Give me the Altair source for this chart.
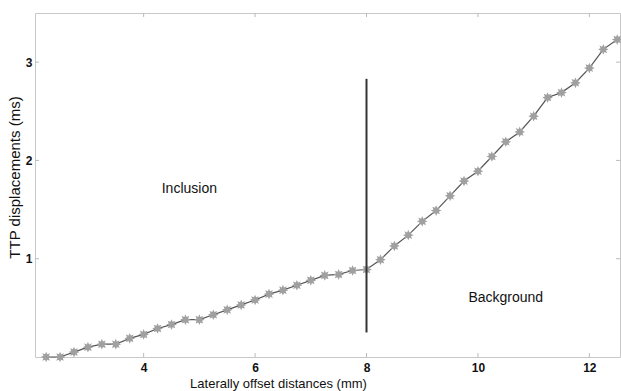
import altair as alt
import pandas as pd

# Data
offset_mm = [2.25, 2.5, 2.75, 3.0, 3.25, 3.5, 3.75, 4.0, 4.25, 4.5, 4.75, 5.0,
             5.25, 5.5, 5.75, 6.0, 6.25, 6.5, 6.75, 7.0, 7.25, 7.5, 7.75, 8.0,
             8.25, 8.5, 8.75, 9.0, 9.25, 9.5, 9.75, 10.0, 10.25, 10.5, 10.75, 11.0,
             11.25, 11.5, 11.75, 12.0, 12.25, 12.5]
ttp_ms = [0.00, 0.00, 0.05, 0.10, 0.13, 0.13, 0.19, 0.23, 0.29, 0.33, 0.38, 0.38,
          0.43, 0.48, 0.53, 0.58, 0.64, 0.68, 0.73, 0.78, 0.83, 0.84, 0.88, 0.89,
          0.99, 1.13, 1.24, 1.38, 1.49, 1.64, 1.79, 1.89, 2.04, 2.19, 2.29, 2.45,
          2.64, 2.69, 2.79, 2.94, 3.13, 3.23]

x_ticks = [4, 6, 8, 10, 12]
y_ticks = [1, 2, 3]
boundary_x = [8]
boundary_y = [0.25]
boundary_y2 = [2.83]
label_text = ["Inclusion", "Background"]
label_x = [4.82, 10.5]
label_y = [1.71, 0.60]

X_DOMAIN = [2.05, 12.55]
Y_DOMAIN = [0, 3.5]

df = pd.DataFrame({"x": offset_mm, "y": ttp_ms})
xs = alt.Scale(domain=X_DOMAIN, nice=False, zero=False)
ys = alt.Scale(domain=Y_DOMAIN, nice=False, zero=False)

FONT = "Liberation Sans"

x_axis = alt.Axis(values=x_ticks, format="d", title="Laterally offset distances (mm)",
                  grid=False, domain=False, ticks=False, labelPadding=5, labelFontSize=12,
                  labelFontWeight="bold", labelColor="#111", labelFont=FONT,
                  titleFont=FONT, titleFontSize=13, titleFontWeight="normal",
                  titleColor="#111", titleX=243, titleY=26, titleAlign="center",
                  titleBaseline="middle")
y_axis = alt.Axis(values=y_ticks, format="d", title="TTP displacements (ms)", grid=False,
                  domain=False, ticks=False, labelPadding=3, labelFontSize=12,
                  labelFontWeight="bold", labelColor="#111", labelFont=FONT,
                  titleFont=FONT, titleFontSize=15, titleFontWeight="normal",
                  titleColor="#111", titleX=-21, titleY=164, titleAlign="center",
                  titleAngle=-90, titleBaseline="middle")

star = ("M0,-1L0.21,-0.51L0.71,-0.71L0.51,-0.21L1,0L0.51,0.21L0.71,0.71L0.21,0.51"
        "L0,1L-0.21,0.51L-0.71,0.71L-0.51,0.21L-1,0L-0.51,-0.21L-0.71,-0.71L-0.21,-0.51Z")

line = alt.Chart(df).mark_line(color="#555555", strokeWidth=1.2).encode(
    x=alt.X("x:Q", scale=xs, axis=x_axis),
    y=alt.Y("y:Q", scale=ys, axis=y_axis),
)
pts = alt.Chart(df).mark_point(shape=star, filled=True, color="#a0a0a0", opacity=1,
                               size=115).encode(
    x=alt.X("x:Q", scale=xs), y=alt.Y("y:Q", scale=ys))

vdf = pd.DataFrame({"x": boundary_x, "y": boundary_y, "y2": boundary_y2})
vline = alt.Chart(vdf).mark_rule(color="#333333", strokeWidth=2).encode(
    x=alt.X("x:Q", scale=xs), y=alt.Y("y:Q", scale=ys), y2="y2:Q")

tdf = pd.DataFrame({"t": label_text, "x": label_x, "y": label_y})
texts = alt.Chart(tdf).mark_text(font=FONT, fontSize=14, color="#111111",
                                 align="center", baseline="middle").encode(
    x=alt.X("x:Q", scale=xs), y=alt.Y("y:Q", scale=ys), text="t:N")

# inward tick marks (MATLAB style) on all four sides
xt = pd.DataFrame({"x": x_ticks})
bt = alt.Chart(xt).mark_rule(color="#bbbbbb", strokeWidth=1).encode(
    x=alt.X("x:Q", scale=xs), y=alt.value(344), y2=alt.value(340))
tt = alt.Chart(xt).mark_rule(color="#bbbbbb", strokeWidth=1).encode(
    x=alt.X("x:Q", scale=xs), y=alt.value(0), y2=alt.value(4))
yt = pd.DataFrame({"y": y_ticks})
lt = alt.Chart(yt).mark_rule(color="#bbbbbb", strokeWidth=1).encode(
    y=alt.Y("y:Q", scale=ys), x=alt.value(0), x2=alt.value(4))
rt = alt.Chart(yt).mark_rule(color="#bbbbbb", strokeWidth=1).encode(
    y=alt.Y("y:Q", scale=ys), x=alt.value(585), x2=alt.value(581))

chart = alt.layer(bt, tt, lt, rt, line, pts, vline, texts).properties(
    width=585, height=344,
    autosize=alt.AutoSizeParams(type="none"),
    padding={"left": 35, "top": 13, "right": 1, "bottom": 34},
    background="white",
).configure_view(stroke="#c8c8c8", strokeWidth=1)

chart.save("out.html", embed_options={"renderer": "svg", "actions": False})
